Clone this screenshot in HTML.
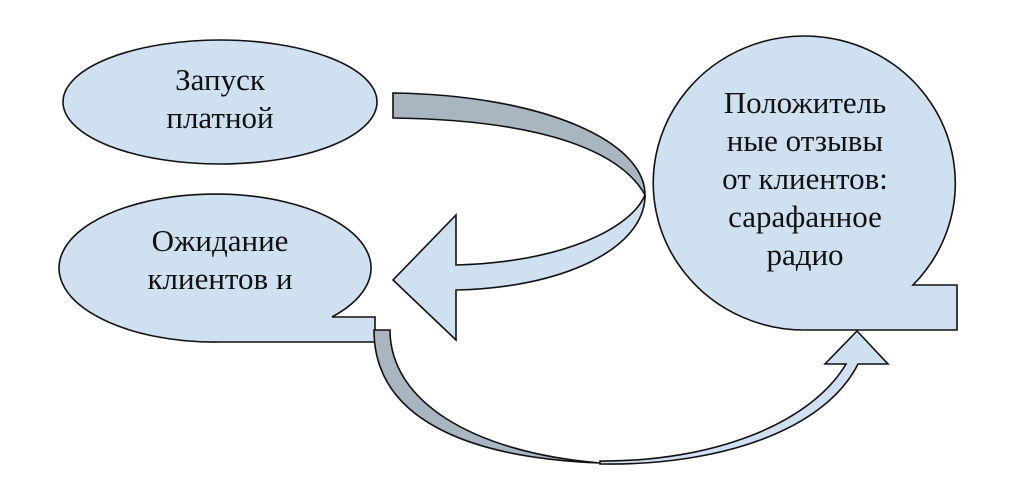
<!DOCTYPE html>
<html><head><meta charset="utf-8"><style>
html,body{margin:0;padding:0;background:#fff;}
svg{display:block;position:absolute;left:0;top:0}
.t{position:absolute;font-family:"Liberation Serif","Noto Serif CJK SC",serif;font-size:31px;line-height:38px;color:#111;text-align:center;width:300px;white-space:nowrap}
</style></head><body>
<svg width="1024" height="485" viewBox="0 0 1024 485" xmlns="http://www.w3.org/2000/svg">
<g stroke="#111" stroke-width="1.6" stroke-linejoin="miter">
<ellipse cx="220" cy="102" rx="157" ry="62" fill="#cfe0f1"/>
<path d="M332,317 L375,317 L375,342 L220,342 A156,74 0 1 1 332,317 Z" fill="#cfe0f1"/>
<path d="M913,285 L957,285 L957,330 L806,330 A151,147 0 1 1 913,285 Z" fill="#cfe0f1"/>
<path d="M393,93 C540,95 645,140 645,195 C620,150 540,120 393,118 Z" fill="#a9b5c1"/>
<path d="M645,195 C645,250 560,288 456,290 L456,340 L393,280 L456,215 L456,265 C560,262 630,230 645,195 Z" fill="#cfe0f1"/>
<path d="M374,330 L390,330 C390,400 470,452 600,463 C470,458 374,420 374,330 Z" fill="#a9b5c1"/>
<path d="M600,464 C720,466 825,430 858,364 L888,364 L857,331 L825,364 L846,364 C810,425 710,462 600,461 Z" fill="#cfe0f1"/>
</g>
</svg>
<div class="t" style="left:70px;top:61px">Запуск<br>платной</div>
<div class="t" style="left:70px;top:222px">Ожидание<br>клиентов и</div>
<div class="t" style="left:655px;top:84px">Положитель<br>ные отзывы<br>от клиентов:<br>сарафанное<br>радио</div>
</body></html>
